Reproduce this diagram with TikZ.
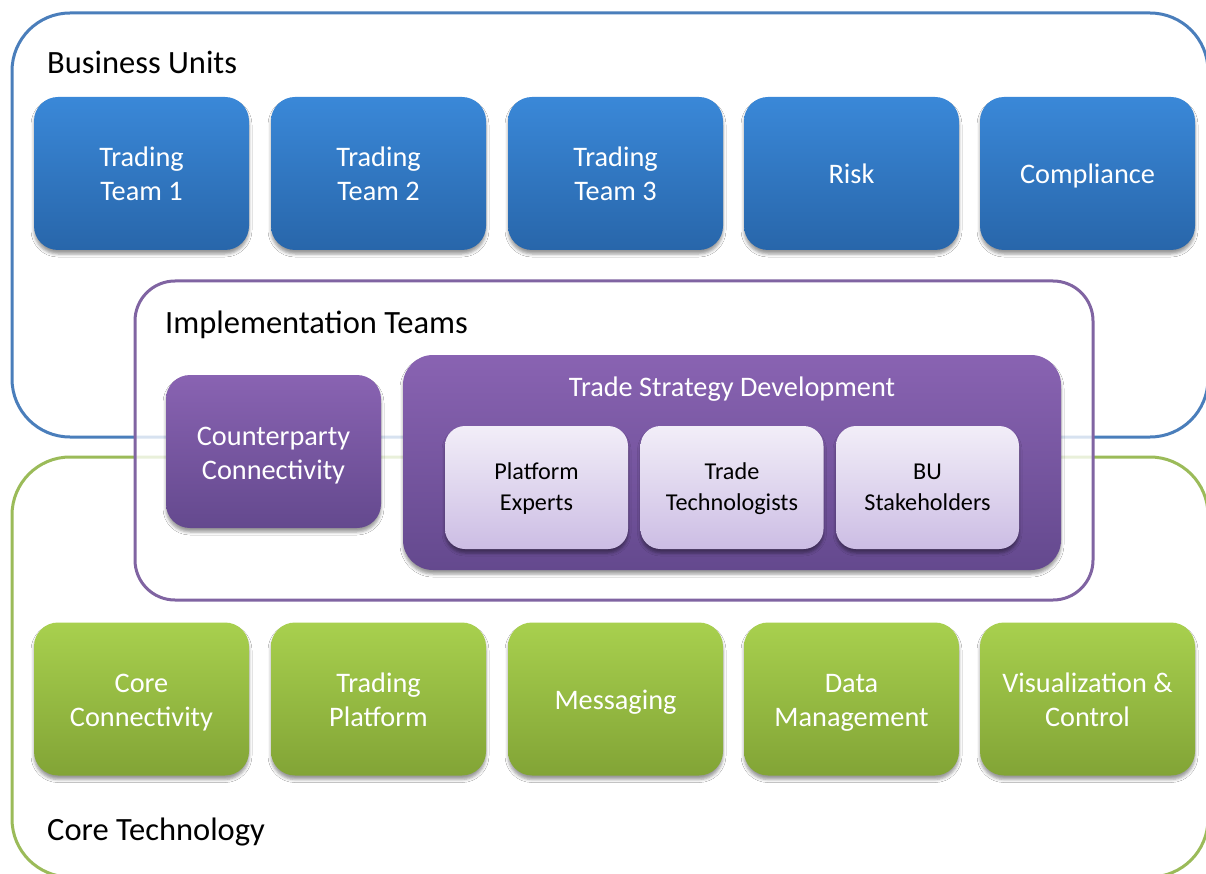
\documentclass[tikz,border=0pt]{standalone}
\usepackage{fontspec}
\setmainfont{Carlito}
\usetikzlibrary{shadows.blur}

\definecolor{buLine}{RGB}{74,126,187}
\definecolor{ctLine}{RGB}{155,187,89}
\definecolor{itLine}{RGB}{128,100,162}
\definecolor{blueTop}{RGB}{58,136,216}
\definecolor{blueBot}{RGB}{40,102,170}
\definecolor{greenTop}{RGB}{168,208,78}
\definecolor{greenBot}{RGB}{130,164,54}
\definecolor{purpTop}{RGB}{137,99,178}
\definecolor{purpBot}{RGB}{100,73,142}
\definecolor{lightTop}{RGB}{242,238,248}
\definecolor{lightBot}{RGB}{204,189,228}

% fixed height above the first line and depth below the last line,
% so every label sits at the same optical height in its box
\newcommand{\headA}{\rule{0pt}{29pt}}
\newcommand{\footA}{\rule[-8pt]{0pt}{8pt}}
\newcommand{\headB}{\rule{0pt}{22.5pt}}
\newcommand{\footB}{\rule[-7pt]{0pt}{7pt}}

\tikzset{
  container/.style={line width=3pt, rounded corners=58pt},
  grouptitle/.style={anchor=west, inner sep=0pt, font=\fontsize{32.5}{38}\selectfont},
  softshadow/.style={blur shadow={shadow xshift=0pt, shadow yshift=-4pt,
      shadow blur radius=3pt, shadow opacity=40}},
  unitbox/.style={rounded corners=24pt, minimum width=215pt, minimum height=153pt,
      inner sep=0pt, align=center, text=white, softshadow,
      font=\fontsize{28.3}{34}\selectfont, execute at end node=\footA},
  bizbox/.style={unitbox, top color=blueTop, bottom color=blueBot},
  techbox/.style={unitbox, top color=greenTop, bottom color=greenBot},
  implbox/.style={unitbox, top color=purpTop, bottom color=purpBot},
  rolebox/.style={rounded corners=20pt, minimum width=183pt, minimum height=123pt,
      inner sep=0pt, align=center, text=black, softshadow,
      top color=lightTop, bottom color=lightBot,
      font=\fontsize{24.2}{31}\selectfont, execute at end node=\footB},
}

\begin{document}
\begin{tikzpicture}[x=1pt, y=-1pt]
\useasboundingbox (0,0) rectangle (1206,874);
\clip (0,0) rectangle (1206,874);
\fill[white] (0,0) rectangle (1206,874);

% outer groups
\draw[container, draw=buLine] (12,13) rectangle (1208,437);
\draw[container, draw=ctLine] (12,457) rectangle (1208,877);

% implementation group, translucent over the outer groups
\draw[line width=3pt, rounded corners=40pt, draw=itLine, fill=white, fill opacity=0.78]
  (135,281) rectangle (1093,600);

% group titles
\node[grouptitle] (buTitle) at (47,62) {Business Units};
\node[grouptitle] (itTitle) at (165,325) {Implementation Teams};
\node[grouptitle] (ctTitle) at (47,832) {Core Technology};

% business units
\node[bizbox] (tt1) at (141.5,173.5) {\headA Trading\\Team 1};
\node[bizbox] (tt2) at (378.5,173.5) {\headA Trading\\Team 2};
\node[bizbox] (tt3) at (615.5,173.5) {\headA Trading\\Team 3};
\node[bizbox] (risk) at (851.5,173.5) {\headA Risk};
\node[bizbox] (comp) at (1087.5,173.5) {\headA Compliance};

% core technology
\node[techbox] (cc) at (141.5,699) {\headA Core\\Connectivity};
\node[techbox] (tp) at (378.5,699) {\headA Trading\\Platform};
\node[techbox] (msg) at (615.5,699) {\headA Messaging};
\node[techbox] (dm) at (851.5,699) {\headA Data\\Management};
\node[techbox] (vc) at (1087.5,699) {\headA Visualization \&\\Control};

% implementation teams
\node[implbox] (cpc) at (273.5,451.5) {\headA Counterparty\\Connectivity};
\node[implbox, minimum width=658pt, minimum height=215pt, rounded corners=30pt,
      execute at end node={}]
  (tsd) at (732,462.5) {};
\node[inner sep=0pt, text=white, font=\fontsize{28.3}{34}\selectfont]
  (tsdTitle) at (732,389) {Trade Strategy Development};
\node[rolebox] (pe) at (536.5,487.5) {\headB Platform\\Experts};
\node[rolebox] (tt) at (732,487.5) {\headB Trade\\Technologists};
\node[rolebox] (bus) at (927.5,487.5) {\headB BU\\Stakeholders};
\end{tikzpicture}
\end{document}
